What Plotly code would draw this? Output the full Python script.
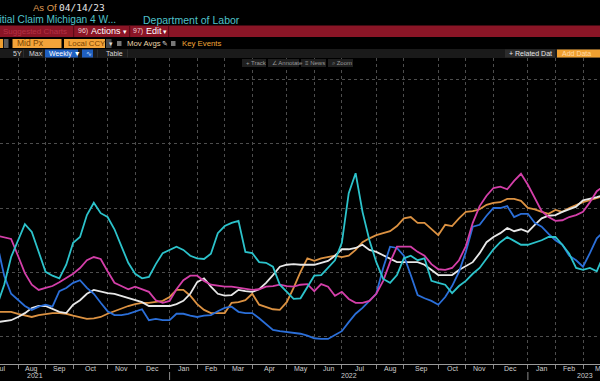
import pandas as pd
import plotly.graph_objects as go

# ---------------- data (weekly, Fridays) ----------------
week_start = "2021-07-16"
n_weeks = 89
dates = pd.date_range(week_start, periods=n_weeks, freq="7D")

cyan_series = [15.0, 18.1, 22.4, 25.0, 27.5, 26.3, 23.2, 20.1, 19.5, 19.1,
               21.2, 24.6, 25.5, 28.9, 30.8, 29.2, 28.6, 26.7, 24.1, 21.5,
               19.8, 19.1, 19.3, 21.3, 23.0, 23.5, 24.0, 23.5, 22.6, 22.2,
               22.1, 22.9, 26.1, 27.2, 27.7, 28.0, 23.2, 23.0, 21.6, 21.5,
               20.9, 18.1, 17.0, 15.9, 16.0, 17.8, 19.5, 19.6, 20.7, 21.9,
               24.6, 32.3, 35.4, 29.4, 25.0, 21.6, 19.0, 18.4, 19.6, 22.2,
               22.6, 21.9, 22.2, 18.7, 18.4, 18.1, 16.8, 17.9, 18.7, 19.8,
               20.7, 22.2, 23.6, 24.7, 25.5, 24.9, 24.3, 24.3, 24.6, 25.0,
               25.5, 25.5, 24.3, 22.9, 20.7, 20.4, 20.7, 20.2, 22.7]

magenta_series = [25.7, 25.5, 25.2, 22.6, 19.9, 18.1, 17.3, 17.6, 17.9, 18.5,
                  19.1, 19.8, 20.7, 21.9, 22.4, 22.1, 20.2, 18.4, 17.9, 17.4,
                  17.8, 17.4, 17.0, 15.7, 15.3, 15.6, 17.4, 18.8, 19.5, 19.5,
                  18.7, 18.1, 17.9, 17.8, 17.8, 17.6, 17.4, 17.3, 17.4, 17.8,
                  17.9, 18.1, 17.9, 17.8, 18.1, 18.2, 17.1, 18.2, 17.8, 16.4,
                  17.0, 15.9, 15.3, 15.3, 15.6, 16.7, 18.7, 21.6, 24.0, 24.0,
                  24.0, 23.2, 22.6, 21.3, 20.5, 20.4, 20.7, 21.9, 24.1, 27.7,
                  30.3, 31.9, 33.1, 33.3, 32.9, 34.2, 35.3, 33.6, 31.6, 29.5,
                  28.6, 28.0, 28.1, 28.6, 28.9, 29.4, 30.9, 32.6, 33.4]

blue_series = [24.3, 19.5, 16.7, 15.7, 14.8, 14.2, 14.7, 15.0, 14.7, 17.1,
               17.6, 18.4, 18.8, 17.6, 16.7, 15.3, 14.0, 13.4, 13.4, 13.6,
               13.9, 14.3, 12.6, 12.8, 12.6, 12.6, 13.6, 13.6, 13.3, 13.1,
               13.3, 13.4, 14.0, 14.5, 14.7, 13.9, 13.7, 13.7, 12.9, 12.0,
               11.1, 10.9, 10.8, 10.6, 10.5, 10.2, 9.8, 9.7, 9.7, 10.3,
               10.9, 12.3, 13.6, 14.5, 15.6, 16.7, 20.7, 24.0, 23.8, 22.6,
               19.6, 16.5, 16.0, 15.6, 15.0, 16.2, 17.9, 20.1, 23.2, 27.1,
               27.4, 28.8, 30.0, 30.0, 30.3, 28.6, 29.1, 29.1, 27.7, 27.1,
               26.0, 25.0, 24.3, 22.6, 21.9, 20.9, 23.0, 25.3, 26.3]

white_series = [12.3, 12.5, 12.6, 13.1, 13.7, 14.5, 14.8, 14.8, 14.3, 13.9,
                13.7, 15.0, 15.7, 16.7, 17.3, 17.0, 16.8, 16.7, 16.4, 16.0,
                15.7, 15.4, 14.8, 14.8, 14.7, 14.8, 15.1, 15.6, 16.7, 18.5,
                19.1, 17.8, 16.7, 16.4, 16.5, 17.3, 17.1, 17.0, 17.4, 18.4,
                19.6, 20.9, 21.2, 21.3, 21.2, 21.2, 21.2, 21.5, 21.8, 22.6,
                23.6, 23.6, 23.8, 24.3, 23.5, 23.2, 22.7, 22.1, 21.6, 21.6,
                21.6, 21.6, 21.2, 20.4, 19.6, 19.6, 19.6, 20.4, 21.0, 21.6,
                23.0, 24.7, 25.5, 26.1, 26.9, 26.4, 26.7, 26.3, 27.4, 28.4,
                28.8, 28.9, 29.4, 29.8, 30.2, 31.2, 31.4, 31.7, 32.0]

orange_series = [13.9, 13.9, 13.9, 13.6, 13.4, 13.1, 13.4, 13.6, 13.7, 13.7,
                 13.6, 13.3, 13.1, 12.8, 12.9, 13.1, 13.6, 14.0, 14.5, 14.8,
                 15.1, 15.3, 15.3, 15.4, 15.6, 16.2, 17.3, 17.3, 16.4, 15.1,
                 14.2, 13.7, 13.7, 13.7, 15.3, 15.4, 15.7, 16.7, 15.0, 14.7,
                 14.3, 14.2, 15.4, 17.6, 20.1, 22.2, 21.8, 22.2, 22.4, 22.6,
                 22.4, 22.6, 23.5, 24.7, 25.3, 25.8, 26.1, 26.4, 27.2, 28.4,
                 28.6, 27.7, 27.7, 26.7, 25.8, 27.4, 27.2, 28.4, 29.4, 29.5,
                 29.8, 30.5, 30.8, 30.9, 31.4, 31.4, 31.1, 30.0, 29.8, 29.4,
                 29.1, 29.7, 29.4, 30.0, 30.5, 30.9, 31.2, 31.6, 31.9]

# first weekly observation of each month (grid lines)
grid_dates = ["2021-08-06", "2021-09-03", "2021-10-01", "2021-11-05", "2021-12-03",
              "2022-01-07", "2022-02-04", "2022-03-04", "2022-04-01", "2022-05-06",
              "2022-06-03", "2022-07-01", "2022-08-05", "2022-09-02", "2022-10-07",
              "2022-11-04", "2022-12-02", "2023-01-06", "2023-02-03", "2023-03-03"]
period_edges = ["2021-07-02"] + grid_dates + ["2023-04-07"]
month_labels = ["Jul", "Aug", "Sep", "Oct", "Nov", "Dec", "Jan", "Feb", "Mar", "Apr",
                "May", "Jun", "Jul", "Aug", "Sep", "Oct", "Nov", "Dec", "Jan", "Feb", "Mar"]
year_labels = ["2021", "2022", "2023"]
year_label_dates = ["2021-08-23", "2022-07-08", "2023-03-05"]
year_breaks = ["2022-01-07", "2023-01-06"]

series = [
    ("Orange", orange_series, "#dc9242"),
    ("White", white_series, "#e8e8e8"),
    ("Blue", blue_series, "#2b6fd9"),
    ("Magenta", magenta_series, "#d43fa9"),
    ("Cyan", cyan_series, "#2cc3cb"),
]

# ---------------- geometry helpers for the terminal chrome ----------------
W, H = 600, 381
PLOT_TOP, PLOT_BOTTOM = 58, 364
PLOT_H = PLOT_BOTTOM - PLOT_TOP
X_RANGE = ["2021-07-18 17:00", "2023-03-20 06:30"]
Y_RANGE = [5.81, 53.26]


def X(p):
    return p / W


def Y(p):
    return (PLOT_BOTTOM - p) / PLOT_H


MONO = "DejaVu Sans Mono, monospace"
SANS = "Liberation Sans, Arial, sans-serif"

fig = go.Figure()
for name, vals, col in series:
    fig.add_trace(go.Scatter(x=dates, y=vals, mode="lines", name=name,
                             line=dict(color=col, width=1.8), hoverinfo="skip"))

shapes = []
annotations = []


def rect(x0, y0, x1, y1, color):
    shapes.append(dict(type="rect", xref="paper", yref="paper",
                       x0=X(x0), x1=X(x1), y0=Y(y1), y1=Y(y0),
                       fillcolor=color, line=dict(width=0), layer="above"))


def txt(x, y, s, color, size, family=SANS, anchor="left"):
    annotations.append(dict(xref="paper", yref="paper", x=X(x), y=Y(y), text=s,
                            showarrow=False, xanchor=anchor, yanchor="middle",
                            font=dict(color=color, size=size, family=family)))


# header row 1-2
txt(31, 7.5, "As Of", "#de9a52", 9.5)
txt(57, 7.5, "04/14/23", "#e6e6e6", 9.5, MONO)
txt(118, 19.5, "Initial Claim Michigan 4 W...", "#4fc2ca", 10.2, anchor="right")
txt(141, 19.5, "Department of Labor", "#4fc2ca", 10.5)

# red bar
rect(0, 25.5, 600, 37, "#8a1526")
for dx in (73, 129, 168):
    rect(dx, 25.5, dx + 1.2, 37, "#5a0a16")
txt(1, 31.3, "Suggested Charts", "#b53245", 8)
txt(76, 31.3, "96)", "#f0d0d0", 7)
txt(89, 31.3, "Actions", "#ffffff", 9)
txt(121, 31.3, "▾", "#ffffff", 7)
txt(131, 31.3, "97)", "#f0d0d0", 7)
txt(144, 31.3, "Edit", "#ffffff", 9)
txt(161, 31.3, "▾", "#ffffff", 7)

# option row
rect(0, 39, 3, 48, "#f0a030")
rect(3.8, 39, 8.5, 48, "#5a5a5a")
rect(12.5, 39, 61.5, 48, "#f3a43a")
txt(15, 43.5, "Mid Px", "#7a4300", 8.5)
rect(64, 39, 105, 48, "#f3a43a")
txt(65.5, 43.5, "Local CCY", "#7a4300", 7.8)
rect(106, 39, 111.5, 48, "#4a4a4a")
txt(106.5, 43.5, "▾", "#dddddd", 6.5)
rect(117, 41, 121.5, 46, "#777777")
txt(124.5, 43.5, "Mov Avgs", "#e8d4aa", 7.8)
txt(160, 43.5, "✎", "#dddddd", 6.5)
rect(171, 41, 175.5, 46, "#777777")
txt(179.5, 43.5, "Key Events", "#f0a636", 7.8)

# period row
rect(0, 49, 600, 58, "#1a1a1a")
for dx in (23, 42, 97, 127):
    rect(dx, 49.5, dx + 0.8, 57.5, "#333333")
txt(11, 53.5, "5Y", "#d8d8d8", 7)
txt(27, 53.5, "Max", "#d8d8d8", 7)
rect(45, 49.5, 78, 57.5, "#1f5fc0")
txt(47, 53.5, "Weekly ▼", "#ffffff", 7)
rect(82, 49.5, 93, 57.5, "#1f5fc0")
txt(83.5, 53.5, "∿", "#cfe0ff", 7)
txt(104, 53.5, "Table", "#d8d8d8", 7)
rect(505, 49.5, 555, 57.5, "#2c2c2c")
txt(507, 53.5, "+ Related Dat", "#e6e6e6", 7)
rect(557, 49.5, 600, 57.5, "#f0a030")
txt(560, 53.5, "Add Data", "#ffd9a6", 7)

# chart tools row (overlaying the plot)
for x0, x1, label in ((242, 266, "+ Track"), (268, 299, "∠ Annotate"),
                      (301, 326, "≡ News"), (328, 353, "⌕ Zoom")):
    rect(x0, 59, x1, 67, "#1f1f1f")
    txt(x0 + 2, 63, label, "#9a9a9a", 6)

# month labels centred within each monthly period
edges = pd.to_datetime(period_edges)
x_end = pd.Timestamp(X_RANGE[1])
for lab, a, b in zip(month_labels, edges[:-1], edges[1:]):
    mid = a + (b - a) / 2
    shift = 0
    if mid > x_end:
        mid = x_end
        shift = 1
    annotations.append(dict(xref="x", yref="paper", x=mid, y=Y(368.5), text=lab,
                            showarrow=False, xanchor="center", yanchor="middle",
                            xshift=shift,
                            font=dict(color="#cfcfcf", size=7, family=SANS)))
for lab, d in zip(year_labels, year_label_dates):
    annotations.append(dict(xref="x", yref="paper", x=d, y=Y(375.5), text=lab,
                            showarrow=False, xanchor="center", yanchor="middle",
                            font=dict(color="#cfcfcf", size=7, family=SANS)))
for d in year_breaks:
    shapes.append(dict(type="line", xref="x", yref="paper", x0=d, x1=d,
                       y0=Y(372), y1=Y(380), line=dict(color="#8a8a8a", width=1)))

fig.update_layout(
    width=W, height=H,
    margin=dict(l=0, r=0, t=PLOT_TOP, b=H - PLOT_BOTTOM, pad=0),
    paper_bgcolor="#000000", plot_bgcolor="#000000",
    showlegend=False,
    shapes=shapes, annotations=annotations,
    xaxis=dict(type="date", range=X_RANGE, tickmode="array", tickvals=grid_dates,
               ticktext=[""] * len(grid_dates), showticklabels=False,
               showgrid=True, gridcolor="#4d4d4d", griddash="dot", gridwidth=1,
               ticks="outside", ticklen=4, tickcolor="#8a8a8a",
               showline=True, linecolor="#9a9a9a", linewidth=1, zeroline=False),
    yaxis=dict(range=Y_RANGE, tick0=10, dtick=10, showticklabels=False,
               showgrid=True, gridcolor="#4d4d4d", griddash="dot", gridwidth=1,
               zeroline=False, showline=False),
)

fig.write_html("out.html",
               config={"displayModeBar": False, "staticPlot": True},
               post_script="document.body.style.margin='0';"
                           "document.body.style.background='#000';")
